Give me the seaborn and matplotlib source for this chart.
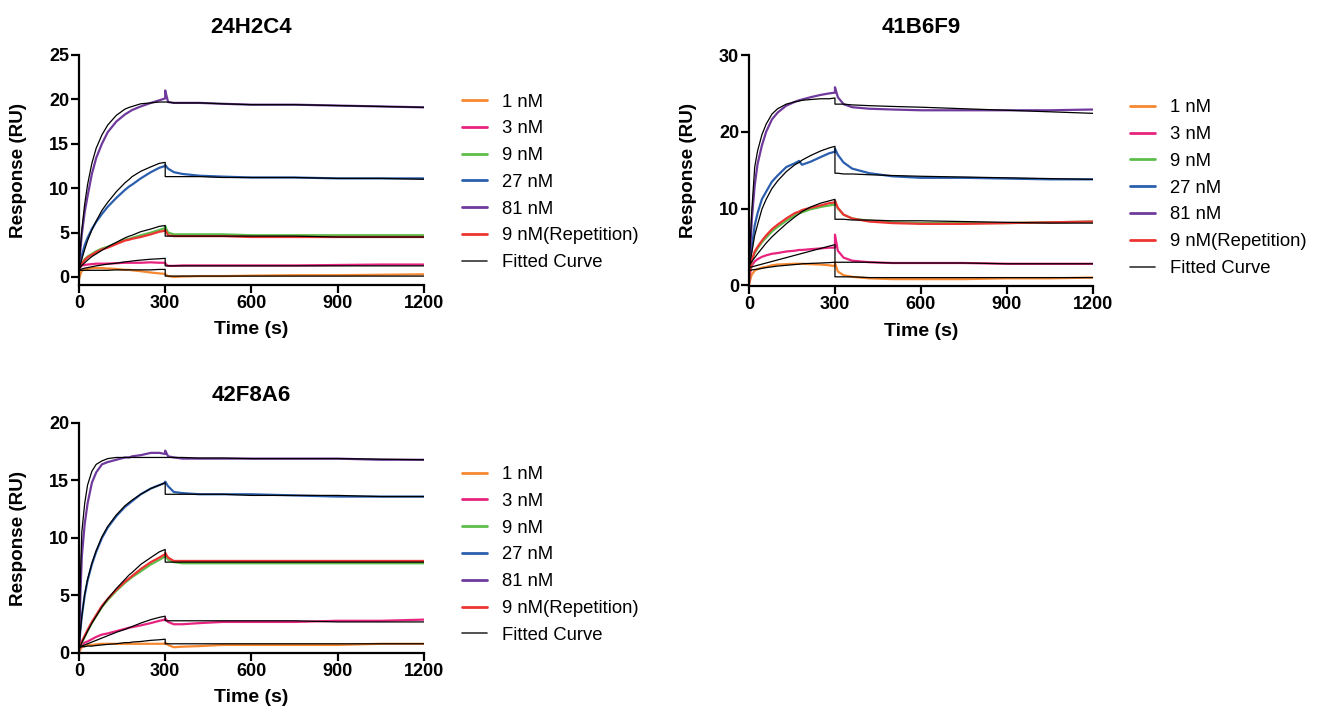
import matplotlib
matplotlib.use("Agg")
import matplotlib.pyplot as plt
from matplotlib.lines import Line2D
import pandas as pd
import seaborn as sns

# sampling times (s); 300 appears twice = end of association / start of dissociation
TIME = [0, 5, 10, 20, 30, 45, 60, 80, 100, 130, 160, 175, 185, 215, 250, 280,
        300, 300, 310, 330, 360, 420, 500, 600, 750, 900, 1050, 1200]

SERIES = ["1 nM", "3 nM", "9 nM", "27 nM", "81 nM", "9 nM(Repetition)"]
COLORS = ["#F7882F", "#E8237F", "#5DBE4A", "#2B5EAE", "#6F3A9C", "#EE3333"]

# ---- 24H2C4 ----
a_1nM = [-0.3, 0.3, 0.7, 0.85, 0.9, 1.0, 1.0, 1.0, 0.95, 0.9, 0.8, 0.8, 0.75, 0.65, 0.5, 0.4,
         0.35, 0.3, 0.1, 0.0, 0.05, 0.1, 0.1, 0.15, 0.2, 0.2, 0.25, 0.3]
a_3nM = [0.8, 1.1, 1.3, 1.35, 1.4, 1.45, 1.5, 1.5, 1.5, 1.55, 1.6, 1.6, 1.6, 1.6, 1.65, 1.6,
         1.6, 1.5, 1.25, 1.25, 1.3, 1.3, 1.3, 1.3, 1.3, 1.35, 1.4, 1.4]
a_9nM = [1.0, 1.3, 1.6, 2.0, 2.3, 2.6, 2.9, 3.2, 3.4, 3.8, 4.2, 4.3, 4.4, 4.7, 5.0, 5.3,
         5.5, 5.7, 5.0, 4.8, 4.8, 4.8, 4.8, 4.7, 4.7, 4.7, 4.7, 4.7]
a_27nM = [1.0, 1.7, 2.4, 3.6, 4.4, 5.4, 6.2, 7.1, 7.9, 8.9, 9.8, 10.2, 10.4, 11.1, 11.8, 12.3,
          12.5, 12.6, 12.2, 11.8, 11.6, 11.4, 11.3, 11.2, 11.2, 11.1, 11.1, 11.1]
a_81nM = [1.0, 3.0, 4.8, 7.3, 9.1, 11.6, 13.4, 15.0, 16.3, 17.5, 18.3, 18.6, 18.8, 19.2, 19.6, 19.9,
          20.1, 21.0, 19.7, 19.6, 19.6, 19.6, 19.5, 19.4, 19.4, 19.3, 19.2, 19.1]
a_9rep = [1.0, 1.3, 1.5, 1.9, 2.2, 2.5, 2.8, 3.1, 3.3, 3.7, 4.1, 4.2, 4.3, 4.5, 4.8, 5.1,
          5.2, 5.3, 4.7, 4.6, 4.6, 4.6, 4.6, 4.5, 4.5, 4.5, 4.5, 4.5]
a_fit = [
    [0.7, 0.75, 0.75, 0.75, 0.75, 0.75, 0.75, 0.75, 0.75, 0.8, 0.8, 0.8, 0.8, 0.8, 0.8, 0.85,
     0.85, 0.1, 0.1, 0.1, 0.1, 0.1, 0.1, 0.1, 0.1, 0.1, 0.1, 0.1],
    [0.8, 0.85, 0.9, 1.0, 1.05, 1.15, 1.25, 1.35, 1.45, 1.55, 1.7, 1.75, 1.8, 1.9, 2.0, 2.05,
     2.1, 1.25, 1.25, 1.25, 1.25, 1.25, 1.25, 1.25, 1.25, 1.25, 1.25, 1.25],
    [0.9, 1.1, 1.3, 1.6, 1.9, 2.3, 2.6, 3.0, 3.4, 3.9, 4.4, 4.6, 4.7, 5.1, 5.4, 5.7,
     5.8, 4.6, 4.6, 4.6, 4.6, 4.6, 4.6, 4.6, 4.6, 4.5, 4.5, 4.5],
    [0.8, 1.4, 2.0, 3.1, 4.1, 5.3, 6.3, 7.5, 8.4, 9.6, 10.6, 11.0, 11.3, 11.9, 12.4, 12.8,
     12.9, 11.3, 11.3, 11.3, 11.3, 11.3, 11.2, 11.2, 11.2, 11.1, 11.1, 11.0],
    [1.0, 3.3, 5.3, 8.2, 10.4, 12.8, 14.5, 16.0, 17.1, 18.2, 18.9, 19.1, 19.2, 19.5, 19.6, 19.7,
     19.7, 19.7, 19.7, 19.6, 19.6, 19.6, 19.5, 19.4, 19.4, 19.3, 19.2, 19.1],
]

# ---- 41B6F9 ----
b_1nM = [0.0, 0.8, 1.4, 1.9, 2.1, 2.3, 2.4, 2.6, 2.7, 2.75, 2.8, 2.8, 2.8, 2.75, 2.7, 2.6,
         2.5, 2.9, 1.8, 1.3, 1.1, 0.9, 0.8, 0.8, 0.8, 0.9, 0.9, 1.0]
b_3nM = [0.3, 1.8, 2.6, 3.1, 3.4, 3.7, 3.9, 4.1, 4.2, 4.4, 4.5, 4.6, 4.6, 4.7, 4.8, 4.9,
         4.9, 6.6, 4.5, 3.6, 3.2, 3.0, 2.9, 2.9, 2.9, 2.8, 2.8, 2.8]
b_9nM = [0.5, 2.2, 3.2, 4.2, 4.8, 5.6, 6.2, 7.0, 7.6, 8.4, 9.1, 9.4, 9.5, 9.9, 10.2, 10.4,
         10.5, 11.0, 10.0, 9.2, 8.7, 8.4, 8.2, 8.1, 8.1, 8.1, 8.2, 8.3]
b_27nM = [1.0, 3.5, 5.0, 7.8, 9.4, 11.2, 12.2, 13.5, 14.3, 15.4, 15.9, 16.2, 15.7, 16.1, 16.7, 17.2,
          17.4, 17.8, 17.0, 16.0, 15.2, 14.6, 14.2, 14.0, 14.0, 13.9, 13.8, 13.8]
b_81nM = [1.0, 5.0, 8.6, 13.0, 15.8, 18.2, 20.0, 21.6, 22.5, 23.4, 23.9, 24.1, 24.2, 24.5, 24.8, 25.0,
          25.1, 25.8, 24.5, 23.6, 23.2, 23.0, 22.9, 22.8, 22.8, 22.8, 22.8, 22.9]
b_9rep = [0.5, 2.3, 3.3, 4.4, 5.0, 5.8, 6.5, 7.3, 7.9, 8.7, 9.4, 9.6, 9.8, 10.1, 10.4, 10.7,
          10.8, 11.0, 10.1, 9.2, 8.7, 8.3, 8.1, 8.0, 8.0, 8.1, 8.2, 8.3]
b_fit = [
    [1.9, 1.95, 2.0, 2.05, 2.1, 2.2, 2.3, 2.4, 2.5, 2.6, 2.7, 2.75, 2.8, 2.85, 2.9, 2.95,
     3.0, 1.1, 1.1, 1.1, 1.1, 1.0, 1.0, 1.0, 1.0, 1.0, 1.0, 1.0],
    [2.3, 2.35, 2.4, 2.5, 2.6, 2.75, 2.9, 3.1, 3.3, 3.6, 3.9, 4.05, 4.15, 4.45, 4.8, 5.1,
     5.3, 3.0, 3.0, 3.0, 3.0, 3.0, 2.9, 2.9, 2.9, 2.8, 2.8, 2.8],
    [2.5, 2.8, 3.1, 3.6, 4.1, 4.8, 5.5, 6.3, 7.0, 8.0, 8.9, 9.3, 9.6, 10.2, 10.7, 11.0,
     11.2, 8.6, 8.6, 8.6, 8.5, 8.5, 8.4, 8.4, 8.3, 8.2, 8.1, 8.1],
    [2.0, 3.3, 4.3, 6.5, 7.9, 9.9, 11.2, 12.6, 13.6, 14.8, 15.7, 16.0, 16.3, 16.9, 17.5, 17.9,
     18.1, 14.6, 14.6, 14.5, 14.5, 14.4, 14.3, 14.2, 14.1, 14.0, 13.9, 13.8],
    [1.5, 6.0, 9.8, 15.4, 17.5, 19.6, 21.0, 22.3, 23.0, 23.6, 23.9, 24.0, 24.1, 24.2, 24.3, 24.3,
     24.4, 23.6, 23.6, 23.6, 23.5, 23.4, 23.3, 23.2, 23.0, 22.8, 22.6, 22.4],
]

# ---- 42F8A6 ----
c_1nM = [0.0, 0.3, 0.5, 0.6, 0.7, 0.7, 0.75, 0.8, 0.8, 0.8, 0.8, 0.8, 0.8, 0.8, 0.8, 0.8,
         0.8, 0.9, 0.7, 0.5, 0.55, 0.6, 0.7, 0.7, 0.7, 0.7, 0.8, 0.8]
c_3nM = [0.3, 0.5, 0.7, 0.9, 1.0, 1.2, 1.4, 1.6, 1.7, 1.9, 2.1, 2.2, 2.25, 2.4, 2.6, 2.8,
         2.9, 3.0, 2.7, 2.5, 2.5, 2.6, 2.7, 2.7, 2.7, 2.8, 2.8, 2.9]
c_9nM = [0.3, 0.6, 0.9, 1.4, 1.9, 2.6, 3.2, 4.0, 4.6, 5.4, 6.1, 6.4, 6.6, 7.1, 7.7, 8.1,
         8.4, 8.5, 8.1, 7.9, 7.8, 7.8, 7.8, 7.8, 7.8, 7.8, 7.8, 7.8]
c_27nM = [0.3, 2.0, 3.2, 5.0, 6.3, 7.7, 8.8, 10.0, 10.9, 11.9, 12.7, 13.0, 13.2, 13.8, 14.3, 14.6,
          14.8, 14.9, 14.5, 14.0, 13.9, 13.8, 13.8, 13.8, 13.7, 13.6, 13.6, 13.6]
c_81nM = [0.0, 5.0, 8.4, 11.2, 13.0, 14.8, 15.7, 16.4, 16.6, 16.8, 17.0, 17.0, 17.1, 17.2, 17.4, 17.4,
          17.3, 17.6, 17.1, 17.0, 16.9, 16.9, 16.9, 16.9, 16.9, 16.9, 16.8, 16.8]
c_9rep = [0.3, 0.7, 1.0, 1.5, 2.0, 2.7, 3.3, 4.1, 4.7, 5.5, 6.2, 6.5, 6.7, 7.3, 7.9, 8.3,
          8.6, 8.7, 8.3, 8.0, 8.0, 8.0, 8.0, 8.0, 8.0, 8.0, 8.0, 8.0]
c_fit = [
    [0.5, 0.5, 0.55, 0.55, 0.6, 0.6, 0.65, 0.7, 0.75, 0.8, 0.9, 0.9, 0.95, 1.0, 1.1, 1.15,
     1.2, 0.8, 0.8, 0.8, 0.8, 0.8, 0.8, 0.8, 0.8, 0.8, 0.8, 0.8],
    [0.5, 0.55, 0.6, 0.7, 0.8, 0.95, 1.1, 1.3, 1.5, 1.8, 2.05, 2.2, 2.3, 2.6, 2.9, 3.1,
     3.2, 2.8, 2.8, 2.8, 2.8, 2.8, 2.8, 2.8, 2.8, 2.7, 2.7, 2.7],
    [0.3, 0.6, 0.9, 1.4, 1.9, 2.6, 3.2, 4.0, 4.7, 5.6, 6.4, 6.8, 7.0, 7.7, 8.3, 8.8,
     9.0, 7.9, 7.9, 7.9, 7.9, 7.9, 7.9, 7.9, 7.9, 7.9, 7.9, 7.9],
    [0.3, 1.9, 3.2, 5.1, 6.4, 7.8, 8.9, 10.1, 11.0, 12.0, 12.8, 13.1, 13.3, 13.8, 14.3, 14.6,
     14.8, 13.8, 13.8, 13.8, 13.8, 13.8, 13.8, 13.7, 13.7, 13.7, 13.6, 13.6],
    [0.5, 6.5, 10.5, 13.0, 14.6, 15.8, 16.4, 16.7, 16.9, 17.0, 17.0, 17.0, 17.0, 17.0, 17.0, 17.0,
     17.0, 17.0, 17.0, 17.0, 17.0, 16.95, 16.95, 16.9, 16.9, 16.9, 16.85, 16.8],
]

PANELS = [
    ("24H2C4", [a_1nM, a_3nM, a_9nM, a_27nM, a_81nM, a_9rep], a_fit, (-0.9, 25), [0, 5, 10, 15, 20, 25]),
    ("41B6F9", [b_1nM, b_3nM, b_9nM, b_27nM, b_81nM, b_9rep], b_fit, (-0.1, 30), [0, 10, 20, 30]),
    ("42F8A6", [c_1nM, c_3nM, c_9nM, c_27nM, c_81nM, c_9rep], c_fit, (0, 20), [0, 5, 10, 15, 20]),
]

sns.set_theme(style="ticks")
plt.rcParams["font.family"] = ["Liberation Sans", "DejaVu Sans"]
plt.rcParams["text.color"] = "black"
plt.rcParams["axes.labelcolor"] = "black"

fig = plt.figure(figsize=(13.2, 7.08), dpi=100)
# axes boxes in figure fraction
boxes = [(0.0598, 0.5975, 0.2614, 0.3249),
         (0.5674, 0.5960, 0.2606, 0.3263),
         (0.0598, 0.0777, 0.2614, 0.3249)]
leg_y = [0.446, 0.4235, 0.426]
leg_x = [1.110, 1.108, 1.110]

for (title, data, fits, ylim, yticks), box, lx, ly in zip(PANELS, boxes, leg_x, leg_y):
    ax = fig.add_axes(box)
    rows = []
    for name, vals in zip(SERIES, data):
        for t, v in zip(TIME, vals):
            rows.append((name, t, v))
    df = pd.DataFrame(rows, columns=["series", "time", "response"])
    frows = []
    for i, vals in enumerate(fits):
        for t, v in zip(TIME, vals):
            frows.append((i, t, v))
    fdf = pd.DataFrame(frows, columns=["curve", "time", "response"])

    sns.lineplot(data=df, x="time", y="response", hue="series", hue_order=SERIES,
                 palette=dict(zip(SERIES, COLORS)), estimator=None, sort=False,
                 linewidth=1.6, legend=False, ax=ax)
    sns.lineplot(data=fdf, x="time", y="response", units="curve", color="black",
                 estimator=None, sort=False, linewidth=0.9, legend=False, ax=ax)

    ax.set_xlim(0, 1200)
    ax.set_ylim(*ylim)
    ax.set_xticks([0, 300, 600, 900, 1200])
    ax.set_yticks(yticks)
    sns.despine(ax=ax)
    for s in ("left", "bottom"):
        ax.spines[s].set_linewidth(1.6)
        ax.spines[s].set_color("black")
    ax.tick_params(width=1.6, length=5.5, labelsize=13, colors="black", pad=1.5)
    for lab in ax.get_xticklabels() + ax.get_yticklabels():
        lab.set_fontweight("bold")
    ax.set_xlabel("Time (s)", fontsize=14, fontweight="bold", color="black")
    ax.set_ylabel("Response (RU)", fontsize=13.6, fontweight="bold", color="black")
    ax.xaxis.set_label_coords(0.5, -0.158)
    ax.yaxis.set_label_coords(-0.15, 0.5)
    ax.set_title(title, fontsize=16, fontweight="bold", pad=16, color="black")

    handles = [Line2D([], [], color=c, lw=2) for c in COLORS]
    handles.append(Line2D([], [], color="#333333", lw=1.2))
    leg = ax.legend(handles, SERIES + ["Fitted Curve"], loc="center left",
                    bbox_to_anchor=(lx, ly), frameon=False, fontsize=13.3,
                    handlelength=1.35, handletextpad=0.8, labelspacing=0.53,
                    borderaxespad=0, borderpad=0)
    for txt in leg.get_texts():
        txt.set_color("black")

fig.savefig("out.png", dpi=100)
